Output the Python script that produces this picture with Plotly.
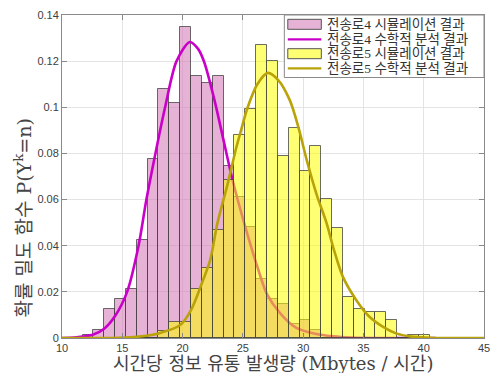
import numpy as np
import plotly.graph_objects as go

# Histogram bins (Mbytes per hour)
bin_start = 11.7
bin_width = 0.9

# Simulated density per bin, channel 4 and channel 5
ch4_sim_density = [0.0012, 0.0035, 0.0124, 0.0168, 0.0211, 0.0423, 0.0778, 0.1080,
                   0.1020, 0.1347, 0.1136, 0.1104, 0.1136, 0.0745, 0.0612, 0.0479,
                   0.0254, 0.0168, 0.0147, 0.0060, 0.0078, 0.0035, 0.0, 0.0,
                   0.0, 0.0, 0.0, 0.0, 0.0, 0.0, 0.0, 0.0]
ch5_sim_density = [0.0, 0.0, 0.0, 0.0, 0.0, 0.0, 0.0, 0.0030,
                   0.0068, 0.0068, 0.0211, 0.0302, 0.0468, 0.0684, 0.0879, 0.0992,
                   0.1268, 0.1200, 0.0791, 0.0911, 0.0722, 0.0833, 0.0601, 0.0478,
                   0.0179, 0.0124, 0.0111, 0.0111, 0.0078, 0.0, 0.0012, 0.0012]

# Analytical distributions
ch4_model_x = [10.0, 11.0, 11.7, 12.6, 13.5, 14.4, 15.4, 16.35, 17.0, 17.75, 18.55,
               19.5, 20.6, 21.3, 21.8, 22.65, 23.45, 24.15, 25.2, 26.2, 27.0, 28.1,
               29.4, 31.0, 32.5, 34.0, 36.0, 41.0]
ch4_model_y = [0.0, 0.0002, 0.0006, 0.0015, 0.0040, 0.0095, 0.0200, 0.0400, 0.0600,
               0.0800, 0.1000, 0.1200, 0.1283, 0.1252, 0.1195, 0.1030, 0.0845, 0.0684,
               0.0482, 0.0309, 0.0190, 0.0107, 0.0045, 0.0018, 0.0007, 0.0002, 0.0, 0.0]
ch5_model_x = [10.0, 14.0, 16.0, 18.0, 19.8, 20.7, 21.6, 22.3, 22.9, 23.75, 24.4,
               24.85, 25.4, 26.2, 27.07, 27.95, 28.9, 29.6, 30.3, 31.1, 31.95, 32.5,
               33.3, 34.4, 35.5, 36.6, 37.7, 39.0, 40.5, 42.0, 45.0]
ch5_model_y = [0.0, 0.0, 0.0004, 0.0020, 0.0056, 0.0121, 0.0237, 0.0340, 0.0500, 0.0670,
               0.0814, 0.0900, 0.1000, 0.1100, 0.1149, 0.1117, 0.1030, 0.0915, 0.0771,
               0.0625, 0.0497, 0.0392, 0.0265, 0.0165, 0.0092, 0.0049, 0.0020, 0.0006,
               0.0001, 0.0, 0.0]

legend_labels = ["전송로4 시뮬레이션 결과", "전송로4 수학적 분석 결과",
                 "전송로5 시뮬레이션 결과", "전송로5 수학적 분석 결과"]
x_title = "시간당 정보 유통 발생량 (Mbytes / 시간)"
y_title = "확률 밀도 함수 P(Y<sup>k</sup>=n)"

edges = bin_start + bin_width * np.arange(len(ch4_sim_density) + 1)
centers = edges[:-1] + bin_width / 2

PINK = "rgba(210,115,180,0.55)"
PINK_SOLID = "rgb(230,178,214)"
YELLOW = "rgba(255,255,0,0.55)"
YELLOW_SOLID = "rgb(255,255,115)"
MAGENTA = "rgb(200,0,200)"
OLIVE = "rgb(185,163,8)"
EDGE = "rgba(60,60,60,0.75)"

fig = go.Figure()

# channel 4 on the base axes
fig.add_trace(go.Bar(x=centers, y=ch4_sim_density, width=bin_width, name=legend_labels[0],
                     marker=dict(color=PINK, line=dict(color=EDGE, width=1)),
                     showlegend=False, xaxis="x", yaxis="y"))
fig.add_trace(go.Scatter(x=ch4_model_x, y=ch4_model_y, mode="lines", name=legend_labels[1],
                         line=dict(color=MAGENTA, width=2.6, shape="spline", smoothing=0.8),
                         showlegend=False, xaxis="x", yaxis="y"))
# channel 5 on an overlaid pair of axes so it sits above channel 4
fig.add_trace(go.Bar(x=centers, y=ch5_sim_density, width=bin_width, name=legend_labels[2],
                     marker=dict(color=YELLOW, line=dict(color=EDGE, width=1)),
                     showlegend=False, xaxis="x2", yaxis="y2"))
fig.add_trace(go.Scatter(x=ch5_model_x, y=ch5_model_y, mode="lines", name=legend_labels[3],
                         line=dict(color=OLIVE, width=2.6, shape="spline", smoothing=0.8),
                         showlegend=False, xaxis="x2", yaxis="y2"))

tick_font = dict(family="Liberation Sans, Arial, sans-serif", size=11, color="#404040")
axis_common = dict(ticks="inside", ticklen=5, tickcolor="#8a8a8a", showline=True,
                   linecolor="#8a8a8a", linewidth=1, mirror="ticks", showgrid=True,
                   gridcolor="#e4e4e4", gridwidth=1, zeroline=False, tickfont=tick_font)

fig.update_layout(
    width=498, height=373,
    margin=dict(l=62, r=8, t=15, b=35),
    paper_bgcolor="white", plot_bgcolor="white",
    barmode="overlay", bargap=0,
    showlegend=False,
    xaxis=dict(range=[10, 45], tick0=10, dtick=5, **axis_common),
    yaxis=dict(range=[0, 0.14], tick0=0, dtick=0.02, **axis_common),
    xaxis2=dict(range=[10, 45], overlaying="x", anchor="y2", visible=False),
    yaxis2=dict(range=[0, 0.14], overlaying="y", anchor="x2", visible=False),
)

# pixel -> paper helpers for the annotation layer
PL, PR, PT, PB = 62, 490, 15, 338
def px(x):
    return (x - PL) / (PR - PL)
def py(y):
    return (PB - y) / (PB - PT)

label_font = dict(family="DejaVu Serif, Noto Sans CJK KR, serif", size=18, color="#444444")
fig.add_annotation(text=x_title, xref="paper", yref="paper", x=0.5, y=py(363.5),
                   xanchor="center", yanchor="middle", showarrow=False, font=label_font)
fig.add_annotation(text=y_title, xref="paper", yref="paper", x=px(22), y=py(218),
                   xanchor="center", yanchor="middle", showarrow=False, textangle=-90,
                   font=dict(family="DejaVu Serif, Noto Sans CJK KR, serif", size=19,
                             color="#444444"))

# legend box
shapes = [dict(type="rect", xref="paper", yref="paper", x0=px(287.5), x1=1.0,
               y0=py(77.5), y1=1.0, fillcolor="white",
               line=dict(color="#8a8a8a", width=1), layer="above")]
row_y = [24.3, 39.3, 53.7, 68.3]
kinds = [("patch", PINK_SOLID), ("line", MAGENTA), ("patch", YELLOW_SOLID), ("line", OLIVE)]
for (kind, col), yc, lab in zip(kinds, row_y, legend_labels):
    if kind == "patch":
        shapes.append(dict(type="rect", xref="paper", yref="paper", x0=px(291), x1=px(325),
                           y0=py(yc + 5), y1=py(yc - 5), fillcolor=col,
                           line=dict(color="#555555", width=1), layer="above"))
    else:
        shapes.append(dict(type="line", xref="paper", yref="paper", x0=px(291), x1=px(325),
                           y0=py(yc), y1=py(yc), line=dict(color=col, width=2.2),
                           layer="above"))
    fig.add_annotation(text=lab, xref="paper", yref="paper", x=px(328.5), y=py(yc),
                       xanchor="left", yanchor="middle", showarrow=False,
                       font=dict(family="Liberation Serif, Noto Sans CJK KR, serif",
                                 size=13.5, color="#333333"))
fig.update_layout(shapes=shapes)

fig.write_html("out.html")
